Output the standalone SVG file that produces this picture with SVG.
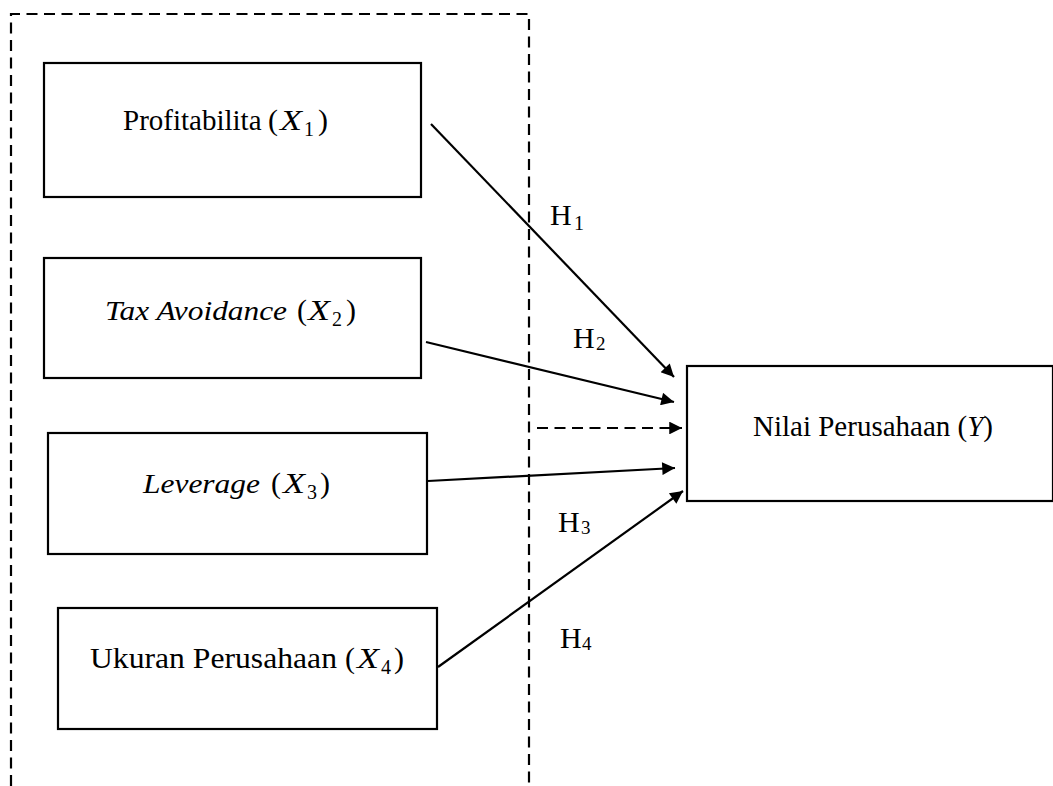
<svg xmlns="http://www.w3.org/2000/svg" width="1053" height="786" viewBox="0 0 1053 786">
<style>
.box{fill:#fff;stroke:#000;stroke-width:2.2}
.t{font-family:"Liberation Serif","Times New Roman",serif;font-size:28px;fill:#000}
.i{font-style:italic}
.p{font-size:30px}
.m{font-size:30px;font-style:italic}
.s{font-size:20px}
.h{font-size:30px}
.hs{font-size:19px}
.c{stroke:#000;stroke-width:2.2;fill:none}
.d{stroke:#000;stroke-width:2.2;fill:none;stroke-dasharray:11 6.5}
</style>
<defs>
<marker id="ah" viewBox="0 0 10 10" refX="10" refY="5" markerWidth="7.2" markerHeight="5.8" markerUnits="strokeWidth" orient="auto">
<path d="M0,0 L10,5 L0,10 z" fill="#000"/>
</marker>
</defs>
<g id="frame">
<path class="d" d="M11,786 V14 H529 V786"/>
</g>
<g id="connectors">
<line class="c" x1="431" y1="124" x2="674" y2="377" marker-end="url(#ah)"/>
<line class="c" x1="426" y1="342" x2="674" y2="402" marker-end="url(#ah)"/>
<line class="d" x1="537" y1="428" x2="682" y2="428" marker-end="url(#ah)"/>
<line class="c" x1="428" y1="481" x2="675" y2="468" marker-end="url(#ah)"/>
<line class="c" x1="438" y1="667" x2="683" y2="491" marker-end="url(#ah)"/>
<text class="t h" x="550" y="225">H<tspan class="s" x="574" dy="5">1</tspan></text>
<text class="t h" x="573" y="348">H<tspan class="hs" x="596" dy="2">2</tspan></text>
<text class="t h" x="558" y="532">H<tspan class="hs" x="581" dy="2">3</tspan></text>
<text class="t h" x="560" y="648">H<tspan class="hs" x="582" dy="2">4</tspan></text>
</g>
<g id="x1">
<rect class="box" x="44" y="63" width="377" height="134"/>
<text class="t" x="123" y="130" style="font-size:29px">Profitabilita</text>
<text class="t p" x="268" y="130">(</text>
<text class="t m" x="280" y="130" textLength="22" lengthAdjust="spacingAndGlyphs">X</text>
<text class="t s" x="304" y="136">1</text>
<text class="t p" x="318" y="130">)</text>
</g>
<g id="x2">
<rect class="box" x="44" y="258" width="377" height="120"/>
<text class="t i" x="105" y="320" textLength="182" lengthAdjust="spacingAndGlyphs">Tax Avoidance</text>
<text class="t p" x="297" y="320">(</text>
<text class="t m" x="308" y="320" textLength="22" lengthAdjust="spacingAndGlyphs">X</text>
<text class="t s" x="332" y="326">2</text>
<text class="t p" x="346" y="320">)</text>
</g>
<g id="x3">
<rect class="box" x="48" y="433" width="379" height="121"/>
<text class="t i" x="143" y="493" textLength="117" lengthAdjust="spacingAndGlyphs">Leverage</text>
<text class="t p" x="271" y="493">(</text>
<text class="t m" x="283" y="493" textLength="22" lengthAdjust="spacingAndGlyphs">X</text>
<text class="t s" x="307" y="499">3</text>
<text class="t p" x="320" y="493">)</text>
</g>
<g id="x4">
<rect class="box" x="58" y="608" width="379" height="121"/>
<text class="t" x="90" y="668" style="font-size:30px" textLength="247" lengthAdjust="spacingAndGlyphs">Ukuran Perusahaan</text>
<text class="t p" x="345" y="668">(</text>
<text class="t m" x="357" y="668" textLength="22" lengthAdjust="spacingAndGlyphs">X</text>
<text class="t s" x="381" y="674">4</text>
<text class="t p" x="394" y="668">)</text>
</g>
<g id="y">
<rect class="box" x="687" y="366" width="366" height="135"/>
<text class="t" x="753" y="436" style="font-size:29px">Nilai Perusahaan (<tspan class="i">Y</tspan>)</text>
</g>
</svg>
